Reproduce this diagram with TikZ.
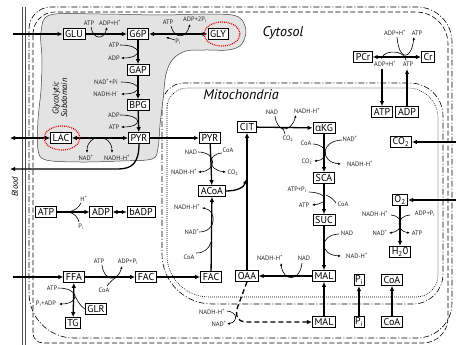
\documentclass[tikz,border=0pt]{standalone}
\usepackage{fontspec}
\setmainfont{PT Sans}
\newfontfamily\grkfont{Open Sans}
\usetikzlibrary{arrows.meta}
% #1 style, #2 L, #3 T, #4 R, #5 B, #6 rTL, #7 rTR, #8 rBR, #9 rBL  (y grows downward)
\newcommand\myrrect[9]{%
 \draw[#1] (#2,{#3+#6}) .. controls (#2,{#3+0.448*#6}) and ({#2+0.448*#6},#3) .. ({#2+#6},#3)
 -- ({#4-#7},#3) .. controls ({#4-0.448*#7},#3) and (#4,{#3+0.448*#7}) .. (#4,{#3+#7})
 -- (#4,{#5-#8}) .. controls (#4,{#5-0.448*#8}) and ({#4-0.448*#8},#5) .. ({#4-#8},#5)
 -- ({#2+#9},#5) .. controls ({#2+0.448*#9},#5) and (#2,{#5-0.448*#9}) .. (#2,{#5-#9}) -- cycle;}
\begin{document}
\begin{tikzpicture}[x=1pt,y=-1pt,
 bx/.style={draw, line width=0.7pt, fill=white, font=\fontsize{10}{11}\selectfont, inner xsep=2.2pt, inner ysep=1.5pt, minimum height=11pt},
 lb/.style={font=\fontsize{6.4}{7}\selectfont, inner sep=0.3pt, text=black!85},
 ttl/.style={font=\itshape\fontsize{14}{15}\selectfont},
 marr/.style={line width=1.3pt, -{Latex[length=5pt,width=4.5pt]}},
 marrb/.style={line width=1.3pt, {Latex[length=5pt,width=4.5pt]}-{Latex[length=5pt,width=4.5pt]}},
 sarr/.style={line width=0.6pt, -{Latex[length=2.8pt,width=2.4pt]}},
 sarrb/.style={line width=0.6pt, {Latex[length=2.8pt,width=2.4pt]}-{Latex[length=2.8pt,width=2.4pt]}},
 sline/.style={line width=0.6pt},
 dashdot/.style={line width=0.6pt, dash pattern=on 6pt off 2pt on 1pt off 2pt},
 dsh/.style={line width=0.6pt, dash pattern=on 5pt off 2.5pt},
 dtt/.style={line width=0.6pt, dash pattern=on 0.8pt off 1.2pt},
 redell/.style={draw=red!85!black, line width=1.2pt, dash pattern=on 0.9pt off 1pt}
]
\useasboundingbox (0,0) rectangle (456,345);
\fill[white] (0,0) rectangle (456,345);

% blood vessel wall
\draw[gray!60!black, line width=0.5pt] (22.3,7) -- (22.3,345);
\draw[gray!60!black, line width=0.5pt] (25,7) -- (25,345);

% cell membrane
\myrrect{dashdot}{29}{7}{452}{338}{22}{35}{35}{45}
\myrrect{dsh}{33}{12}{448}{343}{22}{32}{25}{10}
% mitochondrial membranes
\myrrect{dashdot}{162}{83}{443}{304}{22}{33}{30}{50}
\myrrect{dtt}{167}{88}{438}{297}{20}{30}{22}{42}

% glycolytic subdomain
\filldraw[fill=gray!22, draw=black!75, line width=0.5pt] plot[smooth cycle, tension=0.55] coordinates {
 (50,15) (100,14) (160,15) (205,14) (232,15) (242,20) (246,32) (241,45) (228,50) (205,50) (186,51)
 (173,59) (166,74) (163,100) (160,125) (158,148) (152,159) (120,161) (80,162) (46,160) (38,150)
 (38,120) (41,90) (42,60) (41,32) };

% titles
\node[ttl] (tcyt) at (283,33) {Cytosol};
\node[ttl] (tmit) at (241,95) {Mitochondria};
\node[rotate=90, font=\itshape\fontsize{8.5}{9}\selectfont] (tblood) at (15,187) {Blood};
\node[rotate=90, align=center, font=\itshape\fontsize{8.5}{8.5}\selectfont] (tgly) at (60,98) {Glycolytic\\Subdomain};

% boxes
\node[bx] (glu) at (74,34) {GLU};
\node[bx] (g6p) at (138,34) {G6P};
\node[bx] (gly) at (218,34) {GLY};
\node[bx] (gap) at (138,70) {GAP};
\node[bx] (bpg) at (138,105) {BPG};
\node[bx] (pyrc) at (139,138) {PYR};
\node[bx] (lac) at (61,138) {LAC};
\node[bx] (atpc) at (46,212) {ATP};
\node[bx] (adpc) at (101,212) {ADP};
\node[bx] (badp) at (141,212) {bADP};
\node[bx] (ffa) at (74,277) {FFA};
\node[bx] (facc) at (146,277) {FAC};
\node[bx] (tg) at (73,323) {TG};
\node[bx] (glr) at (96,309) {GLR};
\node[bx] (pyrm) at (210,138) {PYR};
\node[bx] (acoa) at (212,191) {ACoA};
\node[bx] (facm) at (211,277) {FAC};
\node[bx] (oaa) at (247,276) {OAA};
\node[bx] (cit) at (247,127) {CIT};
\node[bx] (akg) at (324,128) {{\grkfont α}KG};
\node[bx] (sca) at (324,178) {SCA};
\node[bx] (suc) at (324,220) {SUC};
\node[bx] (malm) at (324,276) {MAL};
\node[bx] (malb) at (324,322) {MAL};
\node[bx, inner xsep=1pt] (pim) at (359,280) {P\textsubscript{i}};
\node[bx, inner xsep=1pt] (pib) at (359,322) {P\textsubscript{i}};
\node[bx] (coam) at (392,280) {CoA};
\node[bx] (coab) at (392,322) {CoA};
\node[bx] (o2) at (400,200) {O\textsubscript{2}};
\node[bx] (h2o) at (400,252) {H\textsubscript{2}0};
\node[bx] (co2) at (401,142) {CO\textsubscript{2}};
\node[bx] (pcr) at (363,57) {PCr};
\node[bx] (cr) at (428,57) {Cr};
\node[bx] (atpm) at (382,112) {ATP};
\node[bx] (adpm) at (407,112) {ADP};

% free ends
\coordinate (inglu) at (13,34);
\coordinate (inffa) at (13,277);
\coordinate (outlac) at (10,138);
\coordinate (outpyr) at (10,169);
\coordinate (inco2) at (456,142);
\coordinate (ino2) at (456,200);
\coordinate (atptop) at (382,69);
\coordinate (adptop) at (407,69);
\coordinate (citj) at (246.5,179);

% main arrows
\draw[marr] (inglu) -- (glu);
\draw[marr] (glu) -- (g6p);
\draw[marrb] (g6p) -- (gly);
\draw[marr] (g6p) -- (gap);
\draw[marr] (gap) -- (bpg);
\draw[marr] (bpg) -- (pyrc);
\draw[marrb] (lac) -- (pyrc);
\draw[marrb] (lac) -- (outlac);
\draw[marr] (pyrc.south) .. controls (139,163) and (132,169) .. (118,169) -- (outpyr);
\draw[marr] (pyrc) -- (pyrm);
\draw[marr] (atpc) -- (adpc);
\draw[marrb] (adpc) -- (badp);
\draw[marr] (inffa) -- (ffa);
\draw[marr] (ffa) -- (facc);
\draw[marrb] (ffa) -- (tg);
\draw[marr] (facc) -- (facm);
\draw[marr] (pyrm) -- (acoa);
\draw[marr] (facm) -- (acoa);
\draw[marr] (acoa.east) .. controls (238,191) and (244,187) .. (citj);
\draw[marr] (oaa) -- (cit);
\draw[marr] (cit) -- (akg);
\draw[marr] (akg) -- (sca);
\draw[marr] (sca) -- (suc);
\draw[marr] (suc) -- (malm);
\draw[marr] (malm) -- (oaa);
\draw[marr] (malb) -- (malm);
\draw[marr] (pib) -- (pim);
\draw[marr] (coab) -- (coam);
\draw[marr] (o2) -- (h2o);
\draw[marr] (inco2) -- (co2);
\draw[marr] (ino2) -- (o2);
\draw[marrb] (pcr) -- (cr);
\draw[marr] (atptop) -- (atpm);
\draw[marr] (adpm) -- (adptop);
\draw[line width=1.3pt, dash pattern=on 5pt off 3pt, -{Latex[length=5pt,width=4.5pt]}]
  (oaa.south) -- (238,306) .. controls (235,314) and (236,322) .. (247,322) -- (malb);

% side reactions
\node[lb] (a1) at (89,23) {ATP};
\node[lb] (a2) at (110,23) {ADP+H\textsuperscript{+}};
\draw[sarr] (91,27) .. controls (93,40) and (104,40) .. (107,27);

\node[lb] (a3) at (168,22) {ATP};
\node[lb] (a4) at (195,20) {ADP+2P\textsubscript{i}};
\draw[sarr] (171,26) .. controls (174,39) and (186,39) .. (190,24);
\node[lb] (a5) at (178,42) {P\textsubscript{i}};
\draw[sarr] (175,40) .. controls (171,39) .. (166,37);

\node[lb] (a6) at (114,45) {ATP};
\node[lb] (a7) at (114,58) {ADP};
\draw[sarr] (120,45) .. controls (143,45) and (143,58) .. (121,58);

\node[lb] (a8) at (106,82) {NAD\textsuperscript{+}+Pi};
\node[lb] (a9) at (106,94) {NADH-H\textsuperscript{-}};
\draw[sarr] (121,82) .. controls (143,82) and (143,94) .. (121,94);

\node[lb] (a10) at (114,115) {ADP};
\node[lb] (a11) at (114,127) {ATP};
\draw[sarr] (120,115) .. controls (143,115) and (143,127) .. (121,127);

\node[lb] (a12) at (86,158) {NAD\textsuperscript{+}};
\node[lb] (a13) at (117,158) {NADH-H\textsuperscript{+}};
\draw[sarrb] (87,153) .. controls (87,133) and (112,133) .. (112,153);

\node[lb] (a14) at (84,199) {H\textsuperscript{+}};
\node[lb] (a15) at (81,227) {P\textsubscript{i}};
\draw[sline] (68,212) .. controls (75,211) and (79,207) .. (81,203);
\draw[sline] (68,212) .. controls (75,213) and (78,218) .. (79,222);

\node[lb] (a16) at (99,261) {ATP};
\node[lb] (a17) at (128,262) {ADP+P\textsubscript{i}};
\draw[sarr] (102,265) .. controls (104,282) and (118,282) .. (122,266);
\node[lb] (a18) at (104,290) {CoA};
\draw[sline] (107,286) .. controls (110,282) and (113,279) .. (117,277);

\node[lb] (a19) at (52,288) {ATP};
\node[lb] (a20) at (46,304) {P\textsubscript{i}+ADP};
\draw[sarr] (58,288) .. controls (80,288) and (80,304) .. (59,304);
\draw[sline] (glr.west) .. controls (80,306) and (77,300) .. (74,294);

\node[lb] (a21) at (191,152) {NAD};
\node[lb] (a22) at (184,172) {NADH-H\textsuperscript{+}};
\draw[sarr] (198,152) .. controls (217,152) and (217,171) .. (198,172);
\node[lb] (a23) at (228,150) {CoA};
\node[lb] (a24) at (233,173) {CO\textsubscript{2}};
\draw[sarr] (222,153) .. controls (207,154) and (207,170) .. (226,172);

\node[lb] (a25) at (187,207) {NADH-H\textsuperscript{+}};
\node[lb] (a26) at (192,232) {NAD\textsuperscript{+}};
\draw[sarr] (199,232) .. controls (217,232) and (217,210) .. (202,208);
\node[lb] (a27) at (189,257) {CoA};
\draw[sline] (196,253) .. controls (204,253) and (209,249) .. (211,242);

\node[lb] (a28) at (272,112) {NAD};
\node[lb] (a29) at (307,111) {NADH-H\textsuperscript{+}};
\draw[sarr] (275,116) .. controls (277,133) and (291,133) .. (296,115);
\node[lb] (a30) at (288,139) {CO\textsubscript{2}};
\draw[sline] (279,127) .. controls (283,128) and (285,131) .. (285,134);

\node[lb] (a31) at (306,143) {CoA};
\node[lb] (a32) at (307,162) {CO\textsubscript{2}};
\draw[sarr] (313,144) .. controls (329,145) and (329,160) .. (314,161);
\node[lb] (a33) at (350,139) {NAD\textsuperscript{+}};
\node[lb] (a34) at (360,164) {NADH-H\textsuperscript{+}};
\draw[sarr] (342,140) .. controls (320,141) and (320,162) .. (341,164);

\node[lb] (a35) at (297,190) {ATP+P\textsubscript{i}};
\node[lb] (a36) at (304,205) {ATP};
\draw[sarr] (309,192) .. controls (329,193) and (329,203) .. (312,205);
\node[lb] (a37) at (343,204) {CoA};
\draw[sline] (326,195) .. controls (331,197) and (334,200) .. (336,203);

\node[lb] (a38) at (347,233) {NAD};
\node[lb] (a39) at (357,256) {NAD-H\textsuperscript{+}};
\draw[sarr] (339,234) .. controls (319,235) and (319,255) .. (341,256);

\node[lb] (a40) at (270,258) {NADH-H\textsuperscript{+}};
\node[lb] (a41) at (304,258) {NAD};
\draw[sarr] (302,263) .. controls (300,282) and (283,282) .. (281,263);

\node[lb] (a42) at (375,214) {NADH-H\textsuperscript{+}};
\node[lb] (a43) at (380,233) {NAD\textsuperscript{+}};
\draw[sarr] (391,215) .. controls (404,216) and (404,231) .. (389,233);
\node[lb] (a44) at (425,214) {ADP+P\textsubscript{i}};
\node[lb] (a45) at (417,233) {ATP};
\draw[sarr] (410,215) .. controls (396,216) and (396,231) .. (410,233);

\node[lb] (a46) at (395,33) {ADP+H\textsuperscript{+}};
\node[lb] (a47) at (417,33) {ATP};
\draw[sarr] (397,37) .. controls (399,61) and (411,61) .. (414,37);
\node[lb] (a48) at (385,64) {ADP+H\textsuperscript{+}};
\node[lb] (a49) at (408,64) {ATP};
\draw[sarr] (406,60) .. controls (404,50) and (386,50) .. (381,59);

\node[lb] (a50) at (212,312) {NADH-H\textsuperscript{+}};
\node[lb] (a51) at (219,324) {NAD\textsuperscript{+}};
\draw[sarr] (227,311) .. controls (238,312) and (238,322) .. (227,324);

% red dotted highlights
\draw[redell] (222,34) ellipse [x radius=18pt, y radius=12pt];
\draw[redell] (62,138) ellipse [x radius=18pt, y radius=12pt];
\end{tikzpicture}
\end{document}
